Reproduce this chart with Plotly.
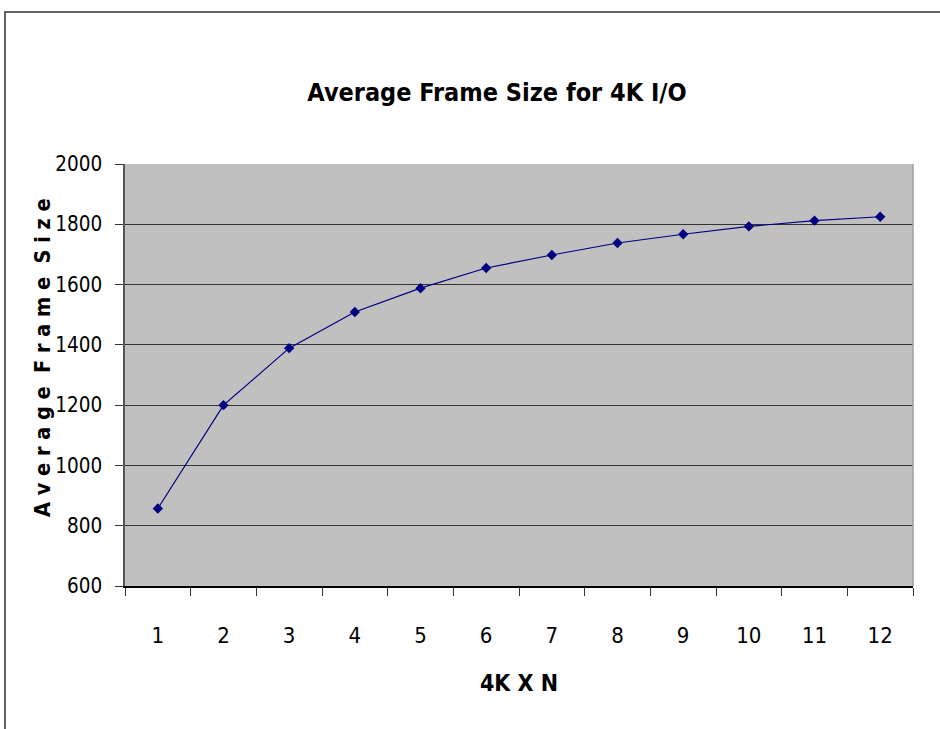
import plotly.graph_objects as go

categories = ["1", "2", "3", "4", "5", "6", "7", "8", "9", "10", "11", "12"]
avg_frame_size = [857, 1200, 1389, 1509, 1588, 1655, 1698, 1738, 1767, 1793, 1812, 1825]
y_ticks = [600, 800, 1000, 1200, 1400, 1600, 1800, 2000]

FONT = "DejaVu Sans Condensed, Liberation Sans Narrow, sans-serif"

fig = go.Figure()
fig.add_trace(go.Scatter(
    x=categories, y=avg_frame_size, mode="lines+markers",
    line=dict(color="#000080", width=1.2),
    marker=dict(symbol="diamond", size=8, color="#000080"),
    showlegend=False,
))

L, R, T, B = 125, 27, 164, 143
W, H = 940, 729
pw, ph = W - L - R, H - T - B

def px_x(p):
    return (p - L) / pw

def px_y(p):
    return (H - B - p) / ph

fig.add_shape(type="rect", xref="paper", yref="paper",
              x0=px_x(5), x1=px_x(960), y0=px_y(12), y1=px_y(760),
              line=dict(color="#333333", width=1.5), layer="below")

fig.add_annotation(text="<b>A v e r a g e  F r a m e  S i z e</b>", textangle=-90,
                   xref="paper", yref="paper", x=px_x(42), y=px_y(358),
                   xanchor="center", yanchor="middle", showarrow=False,
                   font=dict(size=21.5, family=FONT, color="black"))

fig.update_layout(
    width=W, height=H,
    margin=dict(l=L, r=R, t=T, b=B),
    paper_bgcolor="white", plot_bgcolor="#C0C0C0",
    font=dict(family=FONT, color="black"),
    title=dict(text="<b>Average Frame Size for 4K I/O</b>", x=497 / W, xanchor="center",
               y=1 - 92 / H, yanchor="middle", font=dict(size=25, family=FONT)),
    xaxis=dict(
        type="category", range=[-0.5, 11.5], tickson="boundaries", ticks="outside", ticklen=8,
        tickcolor="#333333", showline=True, linecolor="black", linewidth=1.5,
        showgrid=False, tickfont=dict(size=22), ticklabelstandoff=29,
        title=dict(text="<b>4K X N</b>", font=dict(size=23), standoff=28),
        mirror=False,
    ),
    yaxis=dict(
        range=[600, 2000], tickvals=y_ticks, ticks="outside", ticklen=8,
        tickcolor="#333333", showline=True, linecolor="#555555", linewidth=1.5,
        showgrid=True, gridcolor="#333333", gridwidth=1,
        tickfont=dict(size=20.5), ticklabelstandoff=9,
        zeroline=False,
    ),
)

fig.add_shape(type="line", xref="paper", yref="paper", x0=1, x1=1, y0=0, y1=1,
              line=dict(color="#A0A0A0", width=1.5))

fig.write_html("out.html", config={"displayModeBar": False},
               post_script="document.body.style.margin='0';")
